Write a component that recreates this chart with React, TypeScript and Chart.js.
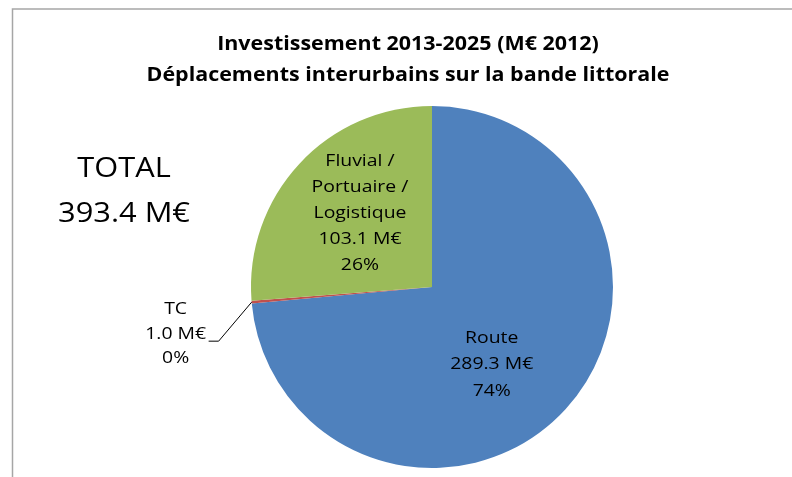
import React, { useEffect, useRef } from "react";
import { Chart, registerables } from "chart.js";

Chart.register(...registerables);

const titleLines = ["Investissement 2013-2025 (M€ 2012)", "Déplacements interurbains sur la bande littorale"];
const categories = ["Route", "TC", "Fluvial / Portuaire / Logistique"];
const categoryLines = [["Route"], ["TC"], ["Fluvial /", "Portuaire /", "Logistique"]];
const values = [289.3, 1.0, 103.1];
const colors = ["#4F81BD", "#C0504D", "#9BBB59"];
const unit = "M€";

const FONT = "'Open Sans', Lato, sans-serif";

const fmt = (v: number) => v.toFixed(1) + " " + unit;

const labelPlugin = {
  id: "excelLabels",
  beforeDraw(chart: any) {
    const ctx = chart.ctx;
    ctx.save();
    ctx.fillStyle = "#ffffff";
    ctx.fillRect(0, 0, chart.width, chart.height);
    ctx.strokeStyle = "#a6a6a6";
    ctx.lineWidth = 1.5;
    ctx.beginPath();
    ctx.moveTo(12.5, chart.height);
    ctx.lineTo(12.5, 9);
    ctx.lineTo(chart.width, 9);
    ctx.stroke();
    ctx.restore();
  },
  afterDraw(chart: any) {
    const ctx = chart.ctx;
    const total = values.reduce((a, b) => a + b, 0);
    ctx.save();
    ctx.fillStyle = "#000000";
    ctx.textAlign = "center";

    const scaleFor = (font: string, ref: string, target: number) => {
      ctx.font = font;
      return target / ctx.measureText(ref).width;
    };
    const put = (t: string, x: number, y: number, s: number) => {
      ctx.save();
      ctx.translate(x, y);
      ctx.scale(s, 1);
      ctx.fillText(t, 0, 0);
      ctx.restore();
    };

    // title
    ctx.textBaseline = "alphabetic";
    const titleFont = `bold 19px ${FONT}`;
    const ts = scaleFor(titleFont, titleLines[1], 523);
    ctx.font = titleFont;
    put(titleLines[0], 408, 50, ts);
    put(titleLines[1], 408, 81, ts);

    // total
    const totalText = total.toFixed(1) + " " + unit;
    const totFont = `27px ${FONT}`;
    const tots = scaleFor(totFont, totalText, 132);
    ctx.font = totFont;
    put("TOTAL", 124, 177, tots);
    put(totalText, 124, 222, tots);

    const meta = chart.getDatasetMeta(0);
    const lblFont = `16px ${FONT}`;
    const ls = scaleFor(lblFont, fmt(values[0]), 83);
    ctx.font = lblFont;
    ctx.textBaseline = "middle";
    const drawBlock = (lines: string[], cx: number, cy: number, lh: number) => {
      const start = cy - ((lines.length - 1) * lh) / 2;
      lines.forEach((l, i) => put(l, cx, start + i * lh, ls));
    };
    meta.data.forEach((arc: any, i: number) => {
      const r = arc.outerRadius;
      const pct = Math.round((values[i] / total) * 100) + "%";
      const lines = [...categoryLines[i], fmt(values[i]), pct];
      if (i === 0) {
        drawBlock(lines, arc.x + 0.33 * r, arc.y + 0.43 * r, 26.5);
      } else if (i === 2) {
        drawBlock(lines, arc.x - 0.398 * r, arc.y - 0.406 * r, 25.8);
      } else {
        const mid = (arc.startAngle + arc.endAngle) / 2;
        const ex = arc.x + Math.cos(mid) * r;
        const ey = arc.y + Math.sin(mid) * r;
        const bx = ex - 33;
        const by = ey + 39;
        ctx.strokeStyle = "#000000";
        ctx.lineWidth = 1;
        ctx.beginPath();
        ctx.moveTo(ex, ey);
        ctx.lineTo(bx, by);
        ctx.lineTo(bx - 10, by);
        ctx.stroke();
        drawBlock(lines, bx - 43, by - 7, 24.5);
      }
    });
    ctx.restore();
  },
};

export default function App() {
  const ref = useRef<HTMLCanvasElement>(null);
  useEffect(() => {
    if (!ref.current) return;
    const chart = new Chart(ref.current, {
      type: "pie",
      data: {
        labels: categories,
        datasets: [
          {
            data: values,
            backgroundColor: colors,
            borderWidth: 0,
          },
        ],
      },
      options: {
        responsive: false,
        animation: false,
        events: [],
        layout: { padding: { left: 251, right: 179, top: 106, bottom: 9 } },
        plugins: {
          legend: { display: false },
          title: { display: false },
          tooltip: { enabled: false },
        },
      },
      plugins: [labelPlugin],
    });
    return () => chart.destroy();
  }, []);
  return (
    <div style={{ position: "fixed", left: 0, top: 0, width: 792, height: 477 }}>
      <canvas ref={ref} width={792} height={477} />
    </div>
  );
}
